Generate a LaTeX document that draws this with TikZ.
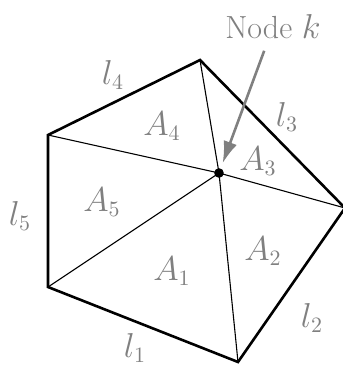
\documentclass[tikz,border=0pt]{standalone}
\usepackage{amsmath,amssymb}
\usepackage{xcolor}
\usetikzlibrary{arrows.meta,positioning}
\definecolor{lblgray}{gray}{0.5}

\begin{document}
\begin{tikzpicture}[x=0.5pt, y=-0.5pt,
      edge/.style={line width=1.3pt, line join=miter},
      spoke/.style={line width=0.55pt},
      lbl/.style={text=lblgray, inner sep=0pt,
                  font=\fontsize{16}{19}\selectfont},
      dot/.style={circle, fill=black, inner sep=0pt, minimum size=4.8pt},
      arr/.style={-{Latex[length=11pt,width=7pt]}, line width=1.3pt,
                  color=lblgray, shorten <=6pt, shorten >=2.6pt}
  ]
    \useasboundingbox (0,0) rectangle (343,372);
    \coordinate (v1) at (238,362);
    \coordinate (v2) at (345,208);
    \coordinate (v3) at (200,60);
    \coordinate (v4) at (48,135);
    \coordinate (v5) at (48,287);
    \node[dot] (k) at (219,173) {};
    \foreach \v in {v1,v2,v3,v4,v5}
      \draw[spoke] (k.center) -- (\v);
    \draw[edge] (v1) -- (v2) -- (v3) -- (v4) -- (v5) -- cycle;
    % areas
    \node[lbl] (a1) at (172,271) {$A_1$};
    \node[lbl] (a2) at (263,251) {$A_2$};
    \node[lbl] (a3) at (258,161) {$A_3$};
    \node[lbl] (a4) at (162,126) {$A_4$};
    \node[lbl] (a5) at (102,202) {$A_5$};
    % edge lengths
    \node[lbl] (l1) at (135,348) {$l_1$};
    \node[lbl] (l2) at (312,318) {$l_2$};
    \node[lbl] (l3) at (287,117) {$l_3$};
    \node[lbl] (l4) at (113,75)  {$l_4$};
    \node[lbl] (l5) at (20,216)  {$l_5$};
    \node[lbl] (lk) at (273,27) {Node $k$};
    \draw[arr] (lk) -- (k);
  \end{tikzpicture}
\end{document}
